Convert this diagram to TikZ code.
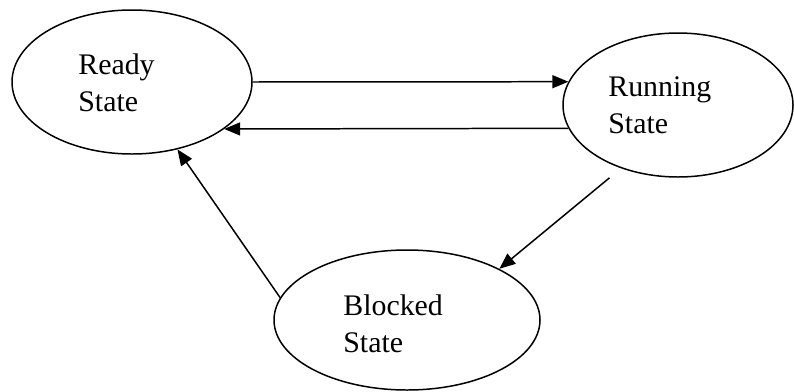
\documentclass[tikz,border=0pt]{standalone}
\usepackage{fontspec}
\setmainfont{Liberation Serif}
\usepackage{tikz}
\usetikzlibrary{arrows.meta,shapes}

\begin{document}
\begin{tikzpicture}[statenode/.style={ellipse, draw=black, line width=0.85pt, inner sep=0pt},
                    statetext/.style={anchor=base west, align=left, inner sep=0pt, font=\fontsize{17}{21}\selectfont},
                    arr/.style={line width=0.85pt, -{Triangle[length=0.32cm,width=0.26cm]}}]

    \useasboundingbox (0,0) rectangle (15.88,-7.82);

    \node[statenode, minimum width=4.8cm, minimum height=2.88cm](ready) at (2.64,-1.64) {};
    \node[statenode, minimum width=4.6cm, minimum height=2.88cm](running) at (13.56,-2.10) {};
    \node[statenode, minimum width=5.32cm, minimum height=2.8cm](blocked) at (8.14,-6.40) {};

    % base of a two-line node sits on the last line
    \node[statetext](readytxt) at (1.56,-2.22) {Ready\\State};
    \node[statetext](runningtxt) at (12.16,-2.66) {Running\\State};
    \node[statetext](blockedtxt) at (6.86,-7.04) {Blocked\\State};

    %\draw[arr] (ready) -- (running);
    \draw[arr] (ready.0) -- (running.168.5);
    \draw[arr] (running.192) -- (ready.333);
    \draw[arr, shorten <=0.3cm] (running.228) -- (blocked.29);
    \draw[arr] (blocked.170) -- (ready.304);

\end{tikzpicture}
\end{document}
